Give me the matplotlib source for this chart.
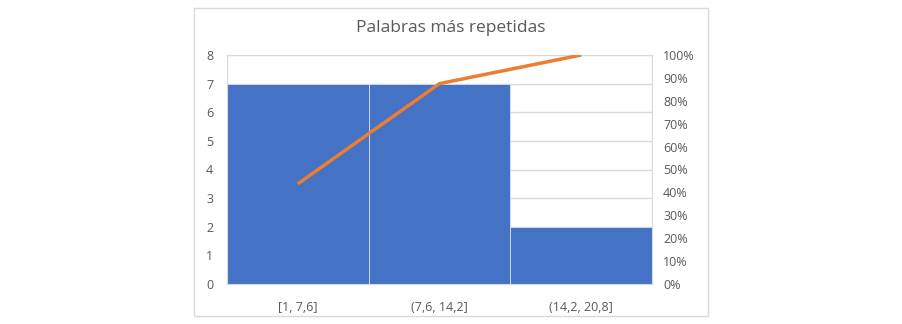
import matplotlib
matplotlib.use("Agg")
import matplotlib.pyplot as plt
from matplotlib.patches import Rectangle
from matplotlib.ticker import PercentFormatter

categories = ["[1, 7,6]", "(7,6, 14,2]", "(14,2, 20,8]"]
counts = [7, 7, 2]
cum_pct = [43.75, 87.5, 100.0]
title = "Palabras más repetidas"

font = ["Open Sans", "DejaVu Sans"]
plt.rcParams['font.family'] = font
txt = "#595959"
grid = "#D9D9D9"

fig = plt.figure(figsize=(9.03, 3.24), dpi=100)
fig.patches.append(Rectangle((194/903, 1-316/324), (708-194)/903, (316-8)/324,
                             transform=fig.transFigure, fill=False, edgecolor=grid, lw=1))
ax = fig.add_axes([227/903, 1-284/324, (652-227)/903, (284-55)/324])
x = list(range(len(categories)))
ax.bar(x, counts, width=1.0, color="#4472C4", edgecolor="#D9E1F2", linewidth=0.6, zorder=2)
ax.set_xlim(-0.5, len(categories)-0.5)
ax.set_ylim(0, 8)
ax.set_yticks(range(0, 9))
ax.grid(axis='y', color=grid, lw=1, zorder=0)
ax.set_axisbelow(True)
for s in ax.spines.values():
    s.set_color(grid)
ax.set_xticks(x)
ax.set_xticklabels(categories)
ax.tick_params(length=0, colors=txt, labelsize=9)
ax.tick_params(axis='x', pad=12)
ax.tick_params(axis='y', pad=10)

ax2 = ax.twinx()
ax2.plot(x, cum_pct, color="#ED7D31", lw=2.5, zorder=3, solid_capstyle='butt')
ax2.set_ylim(0, 100)
ax2.set_yticks(range(0, 101, 10))
ax2.yaxis.set_major_formatter(PercentFormatter(decimals=0))
ax2.tick_params(length=0, colors=txt, labelsize=9, pad=8)
for s in ax2.spines.values():
    s.set_visible(False)

fig.text(451/903, 1-28/324, title, ha='center', va='center', fontsize=12.5, color=txt)
fig.savefig("out.png", dpi=100)
